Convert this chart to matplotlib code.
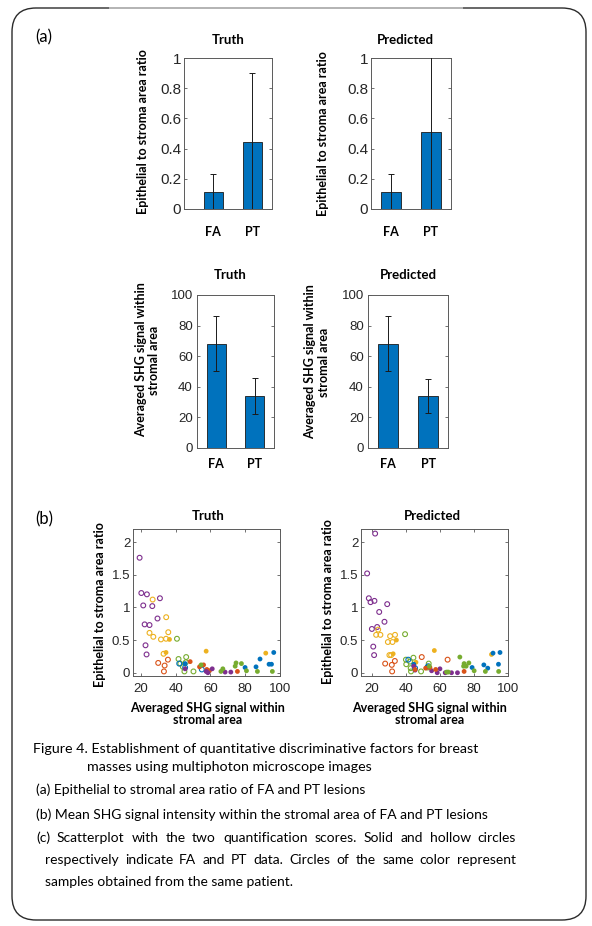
import matplotlib
matplotlib.use("Agg")
import matplotlib.pyplot as plt
from matplotlib.patches import FancyBboxPatch
from matplotlib.lines import Line2D
from matplotlib.transforms import IdentityTransform

W, H = 592, 926

# ---- bar chart data (mean, error) ----
groups = ["FA", "PT"]
ratio_truth = [0.115, 0.445]
ratio_truth_err = [0.12, 0.455]
ratio_pred = [0.11, 0.51]
ratio_pred_err = [0.12, 0.52]
shg_truth = [68, 34]
shg_truth_err = [18, 12]
shg_pred = [68, 34]
shg_pred_err = [18, 11]

# ---- scatter data: SHG signal, area ratio, patient (colour) ----
# PT = hollow, FA = solid
truth_pt_shg = [19.2, 20.2, 23.4, 21.3, 26.5, 30.9, 29.5, 22.1, 24.9, 22.6, 23.2,
                26.7, 34.5, 24.9, 27.1, 31.5, 34.4, 35.7, 33.0,
                29.9, 35.5, 33.6, 33.2,
                40.7, 41.6, 46.0, 42.6, 45.8, 44.1, 45.0, 50.2,
                42.0, 45.4, 55.0]
truth_pt_ratio = [1.76, 1.22, 1.20, 1.03, 1.02, 1.14, 0.83, 0.74, 0.73, 0.42, 0.28,
                  1.12, 0.85, 0.61, 0.55, 0.51, 0.52, 0.62, 0.29,
                  0.15, 0.20, 0.11, 0.02,
                  0.52, 0.21, 0.24, 0.14, 0.16, 0.09, 0.02, 0.02,
                  0.14, 0.08, 0.05]
truth_pt_pat = ["p"] * 11 + ["y"] * 8 + ["o"] * 4 + ["g"] * 8 + ["b"] * 3

truth_fa_shg = [36.4, 34.4, 57.5, 91.8,
                45.4, 79.9, 86.2, 88.5, 93.7, 95.1, 96.4,
                48.3, 56.0, 53.7, 57.9, 59.4, 75.5,
                45.4, 57.5, 61.0, 68.4, 71.7, 58.5,
                54.6, 66.0, 67.1, 74.7, 74.2, 77.8, 80.7, 87.0, 95.6]
truth_fa_ratio = [0.51, 0.31, 0.33, 0.30,
                  0.14, 0.08, 0.09, 0.21, 0.13, 0.13, 0.31,
                  0.17, 0.12, 0.09, 0.05, 0.03, 0.02,
                  0.06, 0.02, 0.06, 0.01, 0.01, 0.00,
                  0.12, 0.02, 0.06, 0.15, 0.10, 0.14, 0.03, 0.02, 0.02]
truth_fa_pat = ["y"] * 4 + ["b"] * 7 + ["o"] * 6 + ["p"] * 6 + ["g"] * 9

pred_pt_shg = [21.9, 17.2, 18.2, 19.2, 21.5, 29.0, 24.3, 27.4, 23.1, 20.0, 20.8, 21.3,
               23.7, 22.5, 25.0, 30.7, 33.6, 29.4, 32.1, 30.3, 31.3,
               27.8, 31.7, 33.5, 31.9, 49.3, 64.5,
               39.5, 40.0, 40.2, 42.4, 44.4, 42.8, 43.0, 48.9, 53.4, 52.8,
               41.4, 45.4, 53.1]
pred_pt_ratio = [2.13, 1.52, 1.14, 1.08, 1.10, 1.05, 0.93, 0.78, 0.70, 0.67, 0.40, 0.27,
                 0.66, 0.58, 0.58, 0.56, 0.58, 0.47, 0.47, 0.27, 0.27,
                 0.14, 0.12, 0.18, 0.02, 0.24, 0.20,
                 0.59, 0.20, 0.13, 0.17, 0.23, 0.07, 0.02, 0.02, 0.14, 0.08,
                 0.20, 0.07, 0.10]
pred_pt_pat = ["p"] * 12 + ["y"] * 9 + ["o"] * 6 + ["g"] * 10 + ["b"] * 3

pred_fa_shg = [34.4, 32.5, 45.9, 56.7, 90.3,
               44.6, 52.4, 78.9, 85.8, 88.1, 91.2, 95.3, 94.4,
               44.6, 45.4, 55.1, 58.4, 60.0, 63.1, 66.8, 70.3,
               51.6, 54.1, 57.5, 74.2, 45.4,
               71.7, 74.2, 77.0, 75.4, 73.9, 80.1, 86.7, 94.5, 64.9, 63.9, 53.7]
pred_fa_ratio = [0.50, 0.29, 0.16, 0.34, 0.28,
                 0.13, 0.09, 0.08, 0.12, 0.07, 0.30, 0.31, 0.13,
                 0.10, 0.04, 0.03, 0.00, 0.06, 0.00, 0.00, 0.00,
                 0.07, 0.08, 0.05, 0.02, 0.05,
                 0.24, 0.14, 0.15, 0.10, 0.10, 0.03, 0.02, 0.02, 0.01, 0.01, 0.10]
pred_fa_pat = ["y"] * 5 + ["b"] * 8 + ["p"] * 8 + ["o"] * 5 + ["g"] * 11

patient_colors = {"b": "#0072BD", "o": "#D95319", "y": "#EDB120",
                  "p": "#7E2F8E", "g": "#77AC30"}

BAR = "#0072BD"
AX = "#5a5a5a"
TICKC = "#262626"
TICKFONT = "Liberation Sans"
LBL = "Lato"

fig = plt.figure(figsize=(W / 100, H / 100), dpi=100)


def add_ax(x0, y0, x1, y1):
    return fig.add_axes([x0 / W, 1 - y1 / H, (x1 - x0) / W, (y1 - y0) / H])


def fx(x):
    return x / W


def fy(y):
    return 1 - y / H


def style(ax, size):
    for s in ax.spines.values():
        s.set_color(AX)
        s.set_linewidth(0.7)
    ax.tick_params(direction="in", top=True, right=True, length=2.5,
                   width=0.6, color=AX, labelsize=size, labelcolor=TICKC)
    for t in ax.get_yticklabels() + ax.get_xticklabels():
        t.set_fontfamily(TICKFONT)


def bar_panel(ax, vals, errs, ylim, yticks, ylabels, size, xpad, ypad, xlim):
    ax.bar([1, 2], vals, width=0.5, color=BAR, edgecolor="#1a1a1a",
           linewidth=0.6, zorder=2)
    ax.errorbar([1, 2], vals, yerr=errs, fmt="none", ecolor="#1a1a1a",
                elinewidth=0.7, capsize=2, capthick=0.7, zorder=3)
    ax.set_xlim(*xlim)
    ax.set_ylim(*ylim)
    ax.set_yticks(yticks)
    ax.set_yticklabels(ylabels)
    ax.set_xticks([1, 2])
    ax.set_xticklabels(groups)
    style(ax, size)
    ax.tick_params(axis="x", pad=xpad, length=0)
    ax.tick_params(axis="y", pad=ypad)
    for t in ax.get_xticklabels():
        t.set_fontfamily(LBL)
        t.set_fontweight("bold")
        t.set_fontsize(9)
        t.set_color("black")


def scatter_panel(ax, pt_x, pt_y, pt_c, fa_x, fa_y, fa_c, xlim):
    ax.scatter(pt_x, pt_y, s=12, facecolors="none",
               edgecolors=[patient_colors[c] for c in pt_c], linewidths=0.8, zorder=2)
    ax.scatter(fa_x, fa_y, s=12, c=[patient_colors[c] for c in fa_c],
               linewidths=0, zorder=3)
    ax.set_xlim(*xlim)
    ax.set_ylim(-0.05, 2.2)
    ax.set_xticks([20, 40, 60, 80, 100])
    ax.set_yticks([0, 0.5, 1, 1.5, 2])
    ax.set_yticklabels(["0", "0.5", "1", "1.5", "2"])
    style(ax, 9.5)
    ax.tick_params(axis="x", pad=5)
    ax.tick_params(axis="y", pad=2)


def label(x, y, s, rot=0, size=9):
    fig.text(fx(x), fy(y), s, rotation=rot, ha="center", va="center",
             fontfamily=LBL, fontweight="bold", fontsize=size,
             linespacing=1.1, multialignment="center")


# ---- (a) bar charts ----
a1 = add_ax(184, 58, 272, 209)
bar_panel(a1, ratio_truth, ratio_truth_err, (0, 1), [0, 0.2, 0.4, 0.6, 0.8, 1],
          ["0", "0.2", "0.4", "0.6", "0.8", "1"], 11, 12, 2, (0.25, 2.5))
a2 = add_ax(371, 58, 451, 209)
bar_panel(a2, ratio_pred, ratio_pred_err, (0, 1), [0, 0.2, 0.4, 0.6, 0.8, 1],
          ["0", "0.2", "0.4", "0.6", "0.8", "1"], 11, 12, 2, (0.5, 2.5))
a3 = add_ax(197, 295, 274, 448)
bar_panel(a3, shg_truth, shg_truth_err, (0, 100), [0, 20, 40, 60, 80, 100],
          ["0", "20", "40", "60", "80", "100"], 9.5, 7, 3, (0.5, 2.5))
a4 = add_ax(368, 295, 448, 448)
bar_panel(a4, shg_pred, shg_pred_err, (0, 100), [0, 20, 40, 60, 80, 100],
          ["0", "20", "40", "60", "80", "100"], 9.5, 7, 3, (0.5, 2.5))

label(228, 40, "Truth", size=9.5)
label(405, 40, "Predicted", size=9.5)
label(230, 275, "Truth", size=9.5)
label(408, 275, "Predicted", size=9.5)
label(143, 132, "Epithelial to stroma area ratio", rot=90)
label(323, 134, "Epithelial to stroma area ratio", rot=90)
label(148, 360, "Averaged SHG signal within\nstromal area", rot=90)
label(317, 362, "Averaged SHG signal within\nstromal area", rot=90)

# ---- (b) scatter plots ----
s1 = add_ax(133, 529, 280, 676)
scatter_panel(s1, truth_pt_shg, truth_pt_ratio, truth_pt_pat,
              truth_fa_shg, truth_fa_ratio, truth_fa_pat, (15.4, 100))
s2 = add_ax(361, 529, 508, 676)
scatter_panel(s2, pred_pt_shg, pred_pt_ratio, pred_pt_pat,
              pred_fa_shg, pred_fa_ratio, pred_fa_pat, (13.6, 100))

label(208, 516, "Truth", size=9.5)
label(432, 516, "Predicted", size=9.5)
label(100, 605, "Epithelial to stroma area ratio", rot=90)
label(328, 602, "Epithelial to stroma area ratio", rot=90)
label(208, 714, "Averaged SHG signal within\nstromal area")
label(430, 714, "Averaged SHG signal within\nstromal area")

fig.text(fx(35), fy(37), "(a)", fontfamily=LBL, fontsize=12, va="center")
fig.text(fx(35), fy(519), "(b)", fontfamily=LBL, fontsize=12, va="center")

# ---- caption ----
CAP = "Lato"
fig.text(fx(33), fy(749), "Figure 4. Establishment of quantitative discriminative factors for breast",
         fontfamily=CAP, fontsize=10.3, va="center")
fig.text(fx(87), fy(767), "masses using multiphoton microscope images",
         fontfamily=CAP, fontsize=10.3, va="center")
fig.text(fx(36), fy(790), "(a) Epithelial to stromal area ratio of FA and PT lesions",
         fontfamily=CAP, fontsize=10, va="center")
fig.text(fx(36), fy(815), "(b) Mean SHG signal intensity within the stromal area of FA and PT lesions",
         fontfamily=CAP, fontsize=10, va="center")

renderer = fig.canvas.get_renderer()


def justify(line, x0, x1, y, size):
    words = line.split()
    texts = [fig.text(0, fy(y), w, fontfamily=CAP, fontsize=size, va="center")
             for w in words]
    widths = [t.get_window_extent(renderer).width for t in texts]
    gap = (x1 - x0 - sum(widths)) / (len(words) - 1)
    x = x0
    for t, w in zip(texts, widths):
        t.set_x(fx(x))
        x += w + gap


justify("(c) Scatterplot with the two quantification scores. Solid and hollow circles",
        36, 516, 838, 10)
justify("respectively indicate FA and PT data. Circles of the same color represent",
        45, 516, 860, 10)
fig.text(fx(45), fy(882), "samples obtained from the same patient.",
         fontfamily=CAP, fontsize=10, va="center")

# ---- rounded frame ----
frame = FancyBboxPatch((12, H - 920), 574, 912,
                       boxstyle="round,pad=0,rounding_size=24",
                       facecolor="none", edgecolor="#2b2b2b", linewidth=1.0,
                       transform=IdentityTransform())
fig.patches.append(frame)
fig.lines.append(Line2D([110, 462], [H - 8, H - 8], color="#b8b8b8",
                        linewidth=1.4, transform=IdentityTransform()))

fig.savefig("out.png", dpi=100)
